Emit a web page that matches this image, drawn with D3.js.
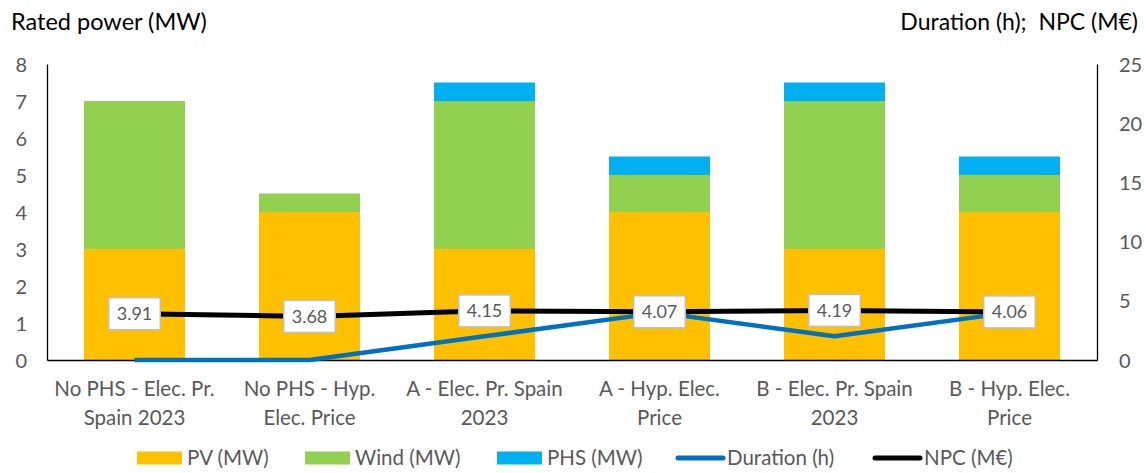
<!DOCTYPE html>
<html>
<head>
<meta charset="utf-8">
<script src="https://cdn.jsdelivr.net/npm/d3@7"></script>
<style>
  html, body { margin: 0; padding: 0; background: #fff; }
  svg { display: block; font-family: Lato, "Open Sans", sans-serif; }
</style>
</head>
<body>
<svg id="chart" width="1146" height="473"></svg>
<script>
// Scenarios (two-line category labels)
const categories = [
  ["No PHS - Elec. Pr.", "Spain 2023"],
  ["No PHS - Hyp.", "Elec. Price"],
  ["A - Elec. Pr. Spain", "2023"],
  ["A - Hyp. Elec.", "Price"],
  ["B - Elec. Pr. Spain", "2023"],
  ["B - Hyp. Elec.", "Price"]
];
const pvMW    = [3, 4, 3, 4, 3, 4];
const windMW  = [4, 0.5, 4, 1, 4, 1];
const phsMW   = [0, 0, 0.5, 0.5, 0.5, 0.5];
const durationH = [0, 0, 2, 4, 2, 4];
const npcMEUR   = [3.91, 3.68, 4.15, 4.07, 4.19, 4.06];
const leftTicks  = [0, 1, 2, 3, 4, 5, 6, 7, 8];
const rightTicks = [0, 5, 10, 15, 20, 25];
const seriesNames = ["PV (MW)", "Wind (MW)", "PHS (MW)", "Duration (h)", "NPC (M€)"];

const colors = {
  pv: "#FFC000", wind: "#92D050", phs: "#00B0F0",
  duration: "#0070C0", npc: "#000000"
};

const svg = d3.select("#chart");
const plot = { left: 47, right: 1097, top: 64, bottom: 360 };
const tickColor = "#595959";

const keys = categories.map((c, i) => i);
const x = d3.scaleBand().domain(keys).range([plot.left, plot.right])
  .paddingInner(0.423).paddingOuter(0.2115);
const yL = d3.scaleLinear().domain([0, 8]).range([plot.bottom, plot.top]);
const yR = d3.scaleLinear().domain([0, 25]).range([plot.bottom, plot.top]);

// Stacked bars
const rows = keys.map(i => ({ i, pv: pvMW[i], wind: windMW[i], phs: phsMW[i] }));
const stack = d3.stack().keys(["pv", "wind", "phs"])(rows);
svg.append("g").selectAll("g").data(stack).join("g")
  .attr("fill", d => colors[d.key])
  .selectAll("rect").data(d => d).join("rect")
  .attr("x", d => x(d.data.i))
  .attr("width", x.bandwidth())
  .attr("y", d => yL(d[1]))
  .attr("height", d => yL(d[0]) - yL(d[1]));

// Axes lines (no tick marks)
const axisG = svg.append("g");
const leftAxis = d3.axisLeft(yL).tickValues(leftTicks).tickSize(0).tickPadding(0);
const gl = axisG.append("g").attr("transform", `translate(${plot.left},0)`).call(leftAxis);
gl.select(".domain").attr("stroke", "#000").attr("stroke-width", 1.3);
gl.selectAll("text").attr("x", -20).attr("fill", tickColor)
  .attr("font-size", 20).attr("font-family", "Lato, sans-serif").attr("text-anchor", "end").attr("dy", "0.35em");

const rightAxis = d3.axisRight(yR).tickValues(rightTicks).tickSize(0).tickPadding(0);
const gr = axisG.append("g").attr("transform", `translate(${plot.right},0)`).call(rightAxis);
gr.select(".domain").attr("stroke", "#000").attr("stroke-width", 1.3);
gr.selectAll("text").attr("x", 22).attr("fill", tickColor)
  .attr("font-size", 20).attr("font-family", "Lato, sans-serif").attr("text-anchor", "start").attr("dy", "0.35em");

const bottomAxis = d3.axisBottom(x).tickSize(0).tickFormat(() => "");
const gb = axisG.append("g").attr("transform", `translate(0,${plot.bottom})`).call(bottomAxis);
gb.select(".domain").attr("stroke", "#000").attr("stroke-width", 1.3);

// Category labels
const catG = svg.append("g").attr("fill", tickColor).attr("font-size", 20.5).attr("text-anchor", "middle");
categories.forEach((lines, i) => {
  const t = catG.append("text").attr("x", x(i) + x.bandwidth() / 2).attr("y", 396);
  lines.forEach((ln, k) => t.append("tspan").attr("x", x(i) + x.bandwidth() / 2).attr("dy", k === 0 ? 0 : 29).text(ln));
});

const cx = i => x(i) + x.bandwidth() / 2;

// Duration line
svg.append("path").datum(durationH)
  .attr("fill", "none").attr("stroke", colors.duration).attr("stroke-width", 4.5)
  .attr("stroke-linejoin", "round")
  .attr("d", d3.line().x((d, i) => cx(i)).y(d => yR(d)));

// NPC line
svg.append("path").datum(npcMEUR)
  .attr("fill", "none").attr("stroke", colors.npc).attr("stroke-width", 5)
  .attr("stroke-linejoin", "round")
  .attr("d", d3.line().x((d, i) => cx(i)).y(d => yR(d)));

// NPC value labels in boxes
const lblG = svg.append("g");
npcMEUR.forEach((v, i) => {
  const g = lblG.append("g").attr("transform", `translate(${cx(i)},${yR(v)})`);
  const rect = g.append("rect").attr("fill", "#fff").attr("stroke", "#BFBFBF").attr("stroke-width", 1.5);
  const t = g.append("text").attr("text-anchor", "middle").attr("dy", "0.35em")
    .attr("font-size", 18).attr("fill", tickColor).text(v.toFixed(2));
  const w = t.node().getComputedTextLength() + 16;
  rect.attr("x", -w / 2).attr("y", -16).attr("width", w).attr("height", 32);
});

// Axis titles
svg.append("text").attr("x", 11).attr("y", 30).attr("font-size", 23.5).attr("fill", "#000")
  .text("Rated power (MW)");
svg.append("text").attr("x", 1138).attr("y", 30).attr("font-size", 23).attr("fill", "#000")
  .attr("text-anchor", "end").style("white-space", "pre").text("Duration (h);  NPC (M€)");

// Legend
const legX = [137, 305, 497, 676, 873];
const legY = 458;
const legG = svg.append("g").attr("font-size", 20.5).attr("fill", tickColor);
const legColors = [colors.pv, colors.wind, colors.phs, colors.duration, colors.npc];
seriesNames.forEach((name, k) => {
  const gx = legX[k];
  if (k < 3) {
    legG.append("rect").attr("x", gx).attr("y", legY - 6.5).attr("width", 45).attr("height", 13).attr("fill", legColors[k]);
    legG.append("text").attr("x", gx + 50).attr("y", legY).attr("dy", "0.35em").text(name);
  } else {
    legG.append("line").attr("x1", gx + 2).attr("x2", gx + 47).attr("y1", legY).attr("y2", legY)
      .attr("stroke", legColors[k]).attr("stroke-width", 5).attr("stroke-linecap", "round");
    legG.append("text").attr("x", gx + 51).attr("y", legY).attr("dy", "0.35em").text(name);
  }
});
</script>
</body>
</html>
